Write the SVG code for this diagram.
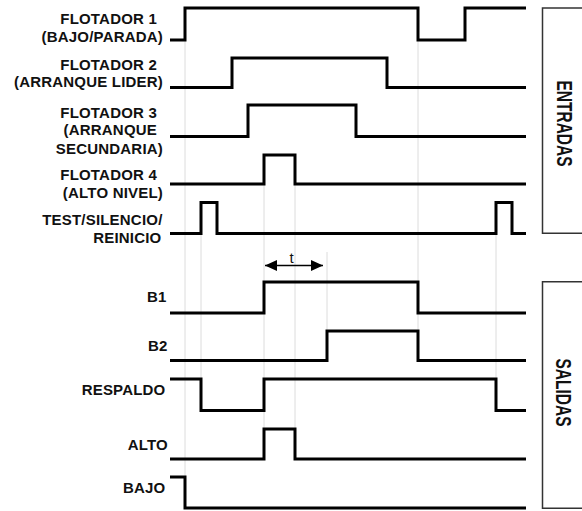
<svg xmlns="http://www.w3.org/2000/svg" width="582" height="511" viewBox="0 0 582 511">
<defs>
<style>
.lbl{font-family:"Liberation Sans",Arial,sans-serif;font-weight:bold;font-size:15px;letter-spacing:0.2px;fill:#111;text-anchor:end}
.wave{fill:none;stroke:#000;stroke-width:3;stroke-linejoin:miter;stroke-linecap:butt}
.guide{stroke:#dcdcdc;stroke-width:1;fill:none}
.box{fill:none;stroke:#333;stroke-width:1.5}
.side{font-family:"Liberation Sans",Arial,sans-serif;font-weight:bold;font-size:15.5px;fill:#111;text-anchor:middle}
.t{font-family:"Liberation Sans",Arial,sans-serif;font-size:15px;fill:#111;text-anchor:middle}
</style>
<marker id="ah" viewBox="0 0 12 11" refX="12" refY="5.5" markerWidth="12" markerHeight="11" markerUnits="userSpaceOnUse" orient="auto-start-reverse">
<path d="M0,0 L12,5.5 L0,11 Z" fill="#000"/>
</marker>
</defs>
<rect width="582" height="511" fill="#fff"/>

<g id="connectors">
<g id="guides">
<line class="guide" x1="185" y1="40" x2="185" y2="477"/>
<line class="guide" x1="201" y1="233" x2="201" y2="379"/>
<line class="guide" x1="264" y1="184" x2="264" y2="459"/>
<line class="guide" x1="295" y1="184" x2="295" y2="429"/>
<line class="guide" x1="327" y1="252" x2="327" y2="331"/>
<line class="guide" x1="418" y1="40" x2="418" y2="360"/>
<line class="guide" x1="496" y1="233" x2="496" y2="379"/>
</g>
<g id="t-arrow">
<line x1="265" y1="265.5" x2="323" y2="265.5" stroke="#000" stroke-width="1.5" marker-start="url(#ah)" marker-end="url(#ah)"/>
<text class="t" x="291.5" y="263">t</text>
</g>
</g>

<g id="flotador1">
<text class="lbl" x="157" y="23.5">FLOTADOR 1</text>
<text class="lbl" x="163" y="42">(BAJO/PARADA)</text>
<path class="wave" d="M170,40 H185 V8 H418 V40 H465 V8 H526"/>
</g>
<g id="flotador2">
<text class="lbl" x="157" y="69.5">FLOTADOR 2</text>
<text class="lbl" x="163" y="86.5">(ARRANQUE LIDER)</text>
<path class="wave" d="M170,87.5 H232 V58 H387 V87.5 H526"/>
</g>
<g id="flotador3">
<text class="lbl" x="157" y="117.5">FLOTADOR 3</text>
<text class="lbl" x="157" y="134.5">(ARRANQUE</text>
<text class="lbl" x="163" y="153.5">SECUNDARIA)</text>
<path class="wave" d="M170,136.5 H248 V105 H356 V136.5 H526"/>
</g>
<g id="flotador4">
<text class="lbl" x="157" y="180">FLOTADOR 4</text>
<text class="lbl" x="163" y="198">(ALTO NIVEL)</text>
<path class="wave" d="M170,184 H264 V155 H295 V184 H526"/>
</g>
<g id="test">
<text class="lbl" x="162.5" y="225">TEST/SILENCIO/</text>
<text class="lbl" x="161.5" y="243">REINICIO</text>
<path class="wave" d="M170,233.5 H201 V202.5 H217 V233.5 H496 V202.5 H512 V233.5 H526"/>
</g>

<g id="b1">
<text class="lbl" x="166.5" y="302">B1</text>
<path class="wave" d="M170,313 H264 V282 H418 V313 H526"/>
</g>
<g id="b2">
<text class="lbl" x="167.5" y="351">B2</text>
<path class="wave" d="M170,360.5 H327 V331 H418 V360.5 H526"/>
</g>
<g id="respaldo">
<text class="lbl" x="165.5" y="395">RESPALDO</text>
<path class="wave" d="M170,379 H201 V410.5 H264 V379 H496 V410.5 H526"/>
</g>
<g id="alto">
<text class="lbl" x="168" y="450">ALTO</text>
<path class="wave" d="M170,459 H264 V429 H295 V459 H526"/>
</g>
<g id="bajo">
<text class="lbl" x="165.5" y="493">BAJO</text>
<path class="wave" d="M170,477 H185 V508 H526"/>
</g>

<g id="entradas">
<path class="box" d="M585,8 H542.5 V233.3 H585"/>
<text class="side" transform="translate(556.5,123.5) rotate(90) scale(1,1.45)" x="0" y="0">ENTRADAS</text>
</g>
<g id="salidas">
<path class="box" d="M585,281.7 H542.5 V508.3 H585"/>
<text class="side" transform="translate(555.5,392.5) rotate(90) scale(1,1.45)" x="0" y="0">SALIDAS</text>
</g>
</svg>
